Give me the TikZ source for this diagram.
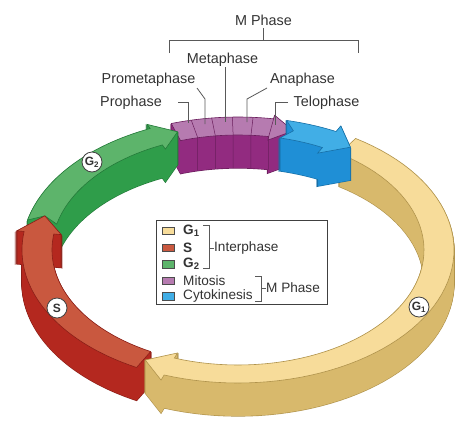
\documentclass[tikz,border=0pt]{standalone}
\usepackage{fontspec}
\setmainfont{Liberation Sans}
\definecolor{yTop}{HTML}{F7DC9A}
\definecolor{yWall}{HTML}{D8B96C}
\definecolor{yLine}{HTML}{B0934C}
\definecolor{rTop}{HTML}{C9583F}
\definecolor{rWall}{HTML}{B4281F}
\definecolor{rLine}{HTML}{8A1E17}
\definecolor{gTop}{HTML}{5DB46B}
\definecolor{gWall}{HTML}{2F9D4A}
\definecolor{gLine}{HTML}{237A39}
\definecolor{pTop}{HTML}{B67BB0}
\definecolor{pWall}{HTML}{922B80}
\definecolor{pLine}{HTML}{6A1E5C}
\definecolor{bTop}{HTML}{41AEE6}
\definecolor{bWall}{HTML}{1F8FD6}
\definecolor{bLine}{HTML}{176FA6}
\definecolor{txt}{HTML}{333333}
% ring segment: #1 options, #2 tail angle, #3 head start, #4 tip, #5 notch depth, #6 barb extension
\newcommand\ringseg[6]{%
 \path[#1] ({238+216*cos(#2)},{250-133*sin(#2)})
  -- plot[domain=#2:#3,samples=60,variable=\t] ({238+216*cos(\t)},{250-133*sin(\t)})
  -- ({238+(216+30*#6)*cos(#3)},{250-(133+18*#6)*sin(#3)})
  -- ({238+201*cos(#4)},{250-124*sin(#4)})
  -- ({238+(186-30*#6)*cos(#3)},{250-(115-18*#6)*sin(#3)})
  -- plot[domain=#3:#2,samples=60,variable=\t] ({238+186*cos(\t)},{250-115*sin(\t)})
  -- ({238+201*cos(#2-#5)},{250-124*sin(#2-#5)})
  -- cycle;}
% solid block: #1 top, #2 wall, #3 line, #4..#8 geometry
\newcommand\solidseg[8]{%
 \foreach \d in {33,32,...,1}{\ringseg{draw=#3,line width=1.2pt,yshift=-\d pt}{#4}{#5}{#6}{#7}{#8}}
 \foreach \d in {33,32,...,1}{\ringseg{fill=#2,yshift=-\d pt}{#4}{#5}{#6}{#7}{#8}}
 \ringseg{fill=#1,draw=#3,line width=0.6pt}{#4}{#5}{#6}{#7}{#8}}
\begin{document}
\begin{tikzpicture}[x=1pt,y=-1pt,
  lbl/.style={font=\fontsize{14.4}{17}\selectfont, inner sep=0pt, text=txt},
  leg/.style={font=\fontsize{13.6}{16}\selectfont, inner sep=0pt, anchor=west, text=txt},
  lead/.style={draw=black!65, line width=0.8pt},
  swatch/.style={draw=black!70, line width=0.5pt},
  stagecirc/.style={circle, draw=black!75, line width=0.8pt, fill=white, minimum size=20pt, inner sep=0pt, text=txt, font=\bfseries\fontsize{12}{12}\selectfont}]
\useasboundingbox (0,0) rectangle (468,424);
\fill[white] (0,0) rectangle (468,424);
% M phase (mitosis)
\solidseg{pTop}{pWall}{pLine}{108}{80.5}{74}{0}{0.2}
\foreach \a in {102.5,97,91.5,86,80.5}{
  \draw[pLine, line width=0.5pt] ({238+216*cos(\a)},{250-133*sin(\a)}) -- ({238+186*cos(\a)},{250-115*sin(\a)}) -- ++(0,33);}
% G2
\solidseg{gTop}{gWall}{gLine}{167}{114}{107.5}{3}{0.25}
% S
\solidseg{rTop}{rWall}{rLine}{242}{172}{164}{0}{0.25}
% G1
\solidseg{yTop}{yWall}{yLine}{57}{-110}{-117.5}{0}{0.3}
% cytokinesis
\solidseg{bTop}{bWall}{bLine}{77}{63}{56}{3}{0.35}
% stage circles
\node[stagecirc] (cg2) at (92,162) {G\textsubscript{2}};
\node[stagecirc] (cs) at (57,308) {S};
\node[stagecirc] (cg1) at (419,307) {G\textsubscript{1}};
% labels
\node[lbl] (mph) at (263.5,20) {M Phase};
\node[lbl] (meta) at (222.5,60) {Metaphase};
\node[lbl] (prometa) at (148.5,80) {Prometaphase};
\node[lbl] (ana) at (302.5,80) {Anaphase};
\node[lbl] (pro) at (131,103) {Prophase};
\node[lbl] (telo) at (326.5,103) {Telophase};
% bracket
\coordinate (bl) at (169,53);
\coordinate (br) at (358,53);
\draw[lead] (bl) -- (169,40) -- (358,40) -- (br);
\draw[lead] (mph.south) ++(0,3) -- (263.5,40);
% leader targets
\coordinate (tpro) at (188,123);
\coordinate (tprometa) at (205,124);
\coordinate (tmeta) at (225,122);
\coordinate (tana) at (247,122);
\coordinate (ttelo) at (275,125);
\draw[lead] (178,102) -- (188,102) -- (tpro);
\draw[lead] (197,88) -- (205,99) -- (tprometa);
\draw[lead] (225,67) -- (tmeta);
\draw[lead] (267,88) -- (247,99) -- (tana);
\draw[lead] (288,102) -- (275,102) -- (ttelo);
% legend
\node[draw=black!75, line width=0.8pt, minimum width=171pt, minimum height=84pt, inner sep=0pt] (legend) at (241.5,262) {};
\fill[yTop, swatch] (162,227) rectangle (174,234.5);
\fill[rTop, swatch] (162,244) rectangle (174,251.5);
\fill[gTop, swatch] (162,260.5) rectangle (174,268);
\fill[pTop, swatch] (162,277) rectangle (174,284.5);
\fill[bTop, swatch] (162,292.5) rectangle (174,300);
\node[leg, font=\bfseries\fontsize{13.6}{16}\selectfont] (lg1) at (183,230.5) {G\textsubscript{1}};
\node[leg, font=\bfseries\fontsize{13.6}{16}\selectfont] (ls) at (183,247.5) {S};
\node[leg, font=\bfseries\fontsize{13.6}{16}\selectfont] (lg2) at (183,264) {G\textsubscript{2}};
\node[leg] (lmit) at (183,280.5) {Mitosis};
\node[leg] (lcyt) at (183,296) {Cytokinesis};
\node[leg] (linter) at (214,248) {Interphase};
\node[leg] (lmph) at (266,288) {M Phase};
\draw[lead] (203,225) -- (209.5,225) -- (209.5,268) -- (203,268);
\draw[lead] (209.5,248) -- (linter.west);
\draw[lead] (255,276) -- (261,276) -- (261,301) -- (255,301);
\draw[lead] (261,288) -- (lmph.west);
\end{tikzpicture}
\end{document}
